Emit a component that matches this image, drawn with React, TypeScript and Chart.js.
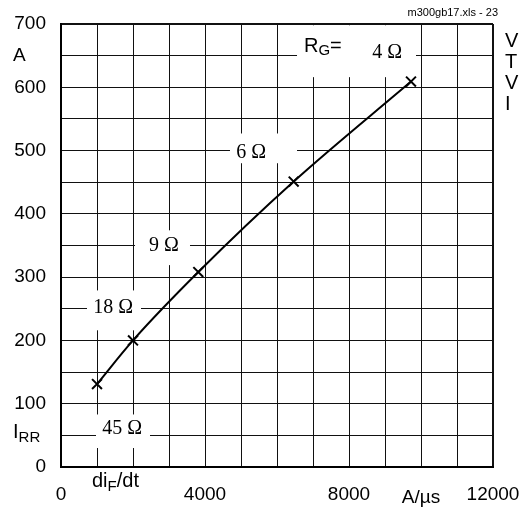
import React, { useEffect, useRef } from "react";
import { Chart, registerables } from "chart.js";

Chart.register(...registerables);

// Data: di_F/dt (A/µs) vs I_RR (A) for different gate resistances
const diFdt = [1000, 2000, 3814, 6463, 9722];
const iRR = [131, 200, 308, 451, 609];

// Gate resistance labels (data coordinates)
const rgLabels = ["45 Ω", "18 Ω", "9 Ω", "6 Ω", "4 Ω"];
const labelX = [1700, 1450, 2860, 5280, 9060];
const labelY = [60, 251, 349, 497, 654];
// White label boxes (data coordinates)
const boxX0 = [972, 722, 2056, 4694, 6556];
const boxX1 = [2472, 2222, 3583, 6556, 9861];
const boxY0 = [30, 216, 319, 480, 616];
const boxY1 = [83, 279, 374, 527, 698];

const xTickValues = [0, 4000, 8000, 12000];
const yTickValues = [0, 100, 200, 300, 400, 500, 600, 700];

const SANS = "'Liberation Sans', Arial, sans-serif";
const SERIF = "'Liberation Serif', 'Times New Roman', serif";

function drawSub(ctx: CanvasRenderingContext2D, parts: [string, number, number][], x: number, y: number) {
  let cx = x;
  for (const [t, size, dy] of parts) {
    ctx.font = `${size}px ${SANS}`;
    ctx.fillText(t, cx, y + dy);
    cx += ctx.measureText(t).width;
  }
}

const annotPlugin = {
  id: "annot",
  beforeDatasetsDraw(chart: any) {
    const { ctx, scales } = chart;
    const x = scales.x;
    const y = scales.y;
    ctx.save();
    ctx.fillStyle = "#fff";
    for (let i = 0; i < boxX0.length; i++) {
      const px0 = x.getPixelForValue(boxX0[i]);
      const px1 = x.getPixelForValue(boxX1[i]);
      const py0 = y.getPixelForValue(boxY1[i]);
      const py1 = y.getPixelForValue(boxY0[i]);
      ctx.fillRect(px0, py0, px1 - px0, py1 - py0);
    }
    ctx.fillStyle = "#000";
    ctx.textAlign = "center";
    ctx.textBaseline = "middle";
    ctx.font = `20px ${SERIF}`;
    for (let i = 0; i < rgLabels.length; i++) {
      ctx.fillText(rgLabels[i], x.getPixelForValue(labelX[i]), y.getPixelForValue(labelY[i]));
    }
    ctx.textAlign = "left";
    drawSub(ctx, [["R", 20, 0], ["G", 15, 5], ["=", 20, 0]], x.getPixelForValue(6750), y.getPixelForValue(665));
    ctx.restore();
  },
  afterDraw(chart: any) {
    const { ctx, scales } = chart;
    const x = scales.x;
    const y = scales.y;
    ctx.save();
    ctx.fillStyle = "#000";
    ctx.textBaseline = "middle";
    ctx.textAlign = "left";
    ctx.font = `19px ${SANS}`;
    ctx.fillText("A", 13, y.getPixelForValue(650));
    drawSub(ctx, [["I", 20, 0], ["RR", 15, 6]], 13, y.getPixelForValue(50) - 3);
    drawSub(ctx, [["di", 20, 0], ["F", 15, 6], ["/dt", 20, 0]], 92, 481);
    ctx.textAlign = "center";
    ctx.font = `19px ${SANS}`;
    ctx.fillText("A/µs", x.getPixelForValue(10000), 498);
    ctx.textAlign = "right";
    ctx.font = `11px ${SANS}`;
    ctx.fillText("m300gb17.xls - 23", 498, 13);
    ctx.textAlign = "left";
    ctx.font = `20px ${SANS}`;
    const side = ["V", "T", "V", "I"];
    const sideY = [41, 62, 83, 104];
    for (let i = 0; i < side.length; i++) ctx.fillText(side[i], 505, sideY[i]);
    ctx.restore();
  },
};

export default function App() {
  const ref = useRef<HTMLCanvasElement>(null);
  useEffect(() => {
    if (!ref.current) return;
    const chart = new Chart(ref.current, {
      type: "scatter",
      data: {
        datasets: [
          {
            data: diFdt.map((v, i) => ({ x: v, y: iRR[i] })),
            showLine: true,
            borderColor: "#000",
            backgroundColor: "#000",
            borderWidth: 2,
            pointStyle: "crossRot",
            pointRadius: 7,
            pointBorderWidth: 2,
            pointBorderColor: "#000",
            cubicInterpolationMode: "monotone",
          } as any,
        ],
      },
      options: {
        animation: false,
        responsive: false,
        devicePixelRatio: 1,
        layout: { padding: { top: 24, right: 31, left: 0, bottom: 0 } },
        plugins: { legend: { display: false }, tooltip: { enabled: false } },
        scales: {
          x: {
            type: "linear",
            min: 0,
            max: 12000,
            afterFit: (s: any) => {
              s.height = 44;
              s.paddingLeft = 0;
              s.paddingRight = 0;
            },
            grid: {
              color: "#111",
              lineWidth: (c: any) => (c.tick && c.tick.value === 12000 ? 2 : 1),
              drawTicks: false,
            },
            border: { display: true, color: "#000", width: 2 },
            ticks: {
              stepSize: 1000,
              autoSkip: false,
              maxRotation: 0,
              padding: 16,
              color: "#000",
              font: { family: SANS, size: 19 },
              callback: (v: any) => (xTickValues.includes(Number(v)) ? String(v) : ""),
            },
          },
          y: {
            type: "linear",
            min: 0,
            max: 700,
            afterFit: (s: any) => {
              s.width = 61;
              s.paddingTop = 0;
              s.paddingBottom = 0;
            },
            grid: {
              color: "#111",
              lineWidth: (c: any) => (c.tick && c.tick.value === 700 ? 2 : 1),
              drawTicks: false,
            },
            border: { display: true, color: "#000", width: 2 },
            ticks: {
              stepSize: 50,
              autoSkip: false,
              padding: 15,
              color: "#000",
              font: { family: SANS, size: 19 },
              callback: (v: any) => (yTickValues.includes(Number(v)) ? String(v) : ""),
            },
          },
        },
      },
      plugins: [annotPlugin],
    });
    return () => chart.destroy();
  }, []);
  return (
    <div style={{ position: "absolute", left: 0, top: 0, width: 524, height: 511, background: "#fff" }}>
      <canvas ref={ref} width={524} height={511} />
    </div>
  );
}
